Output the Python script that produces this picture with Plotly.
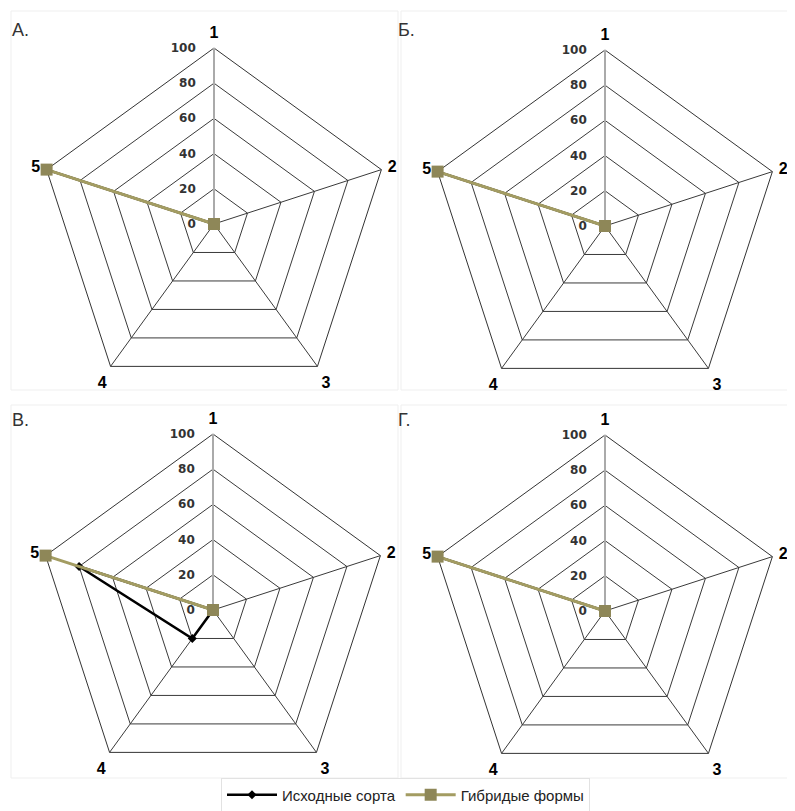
import plotly.graph_objects as go

categories = ["1", "2", "3", "4", "5"]
panel_labels = ["А.", "Б.", "В.", "Г."]
orig_A = [0, 0, 0, 0, 100]
hyb_A = [0, 0, 0, 0, 100]
orig_B = [0, 0, 0, 0, 100]
hyb_B = [0, 0, 0, 0, 100]
orig_V = [0, 0, 0, 20, 80]
hyb_V = [0, 0, 0, 0, 100]
orig_G = [0, 0, 0, 0, 100]
hyb_G = [0, 0, 0, 0, 100]
radial_ticks = [0, 20, 40, 60, 80, 100]
series_names = ["Исходные сорта", "Гибридые формы"]

W, H = 795, 811
originals = [orig_A, orig_B, orig_V, orig_G]
hybrids = [hyb_A, hyb_B, hyb_V, hyb_G]
centers = [(213, 222), (604, 224), (212, 608), (604, 609)]
R = 176
SHIFT_X, SHIFT_Y = 7, 6
OLIVE = "#a39c62"
OLIVE_M = "#8e8758"


def pname(k):
    return "polar" if k == 1 else f"polar{k}"


fig = go.Figure()
for i in range(4):
    grid_id = pname(2 * i + 1)
    data_id = pname(2 * i + 2)
    th = categories + [categories[0]]
    o = originals[i] + [originals[i][0]]
    h = hybrids[i] + [hybrids[i][0]]
    # invisible trace so that the grid subplot is drawn
    fig.add_trace(go.Scatterpolar(r=[None], theta=[categories[0]], subplot=grid_id,
                                  mode="markers", showlegend=False, hoverinfo="skip"))
    fig.add_trace(go.Scatterpolar(
        r=o, theta=th, subplot=data_id, mode="lines+markers", cliponaxis=False,
        line=dict(color="black", width=2.5),
        marker=dict(symbol="diamond", size=7, color="black"),
        name=series_names[0], showlegend=(i == 0)))
    fig.add_trace(go.Scatterpolar(
        r=h, theta=th, subplot=data_id, mode="lines+markers", cliponaxis=False,
        line=dict(color=OLIVE, width=3),
        marker=dict(symbol="square", size=12, color=OLIVE_M),
        name=series_names[1], showlegend=(i == 0)))

layout = dict(
    width=W, height=H, margin=dict(l=0, r=0, t=0, b=0),
    paper_bgcolor="white", plot_bgcolor="white",
    font=dict(family="Liberation Sans, Arial, sans-serif", color="black"),
    showlegend=True,
    legend=dict(orientation="h", x=0.5, xanchor="center", y=0.008, yanchor="bottom",
                bordercolor="#e2e2e2", borderwidth=1, font=dict(size=15, color="#222222"),
                bgcolor="white", itemwidth=50),
)
annotations = []
shapes = []
for i, (cx, cy) in enumerate(centers):
    grid_id = pname(2 * i + 1)
    data_id = pname(2 * i + 2)
    cx2, cy2 = cx - SHIFT_X, cy - SHIFT_Y
    x0, x1 = (cx2 - R) / W, (cx2 + R) / W
    y0, y1 = 1 - (cy2 + R) / H, 1 - (cy2 - R) / H
    layout[grid_id] = dict(
        domain=dict(x=[x0, x1], y=[y0, y1]),
        gridshape="linear",
        bgcolor="white",
        angularaxis=dict(rotation=90, direction="clockwise", categoryorder="array",
                         categoryarray=categories, type="category",
                         showline=True, linecolor="#333333", linewidth=1,
                         showgrid=True, gridcolor="#3a3a3a", gridwidth=1,
                         ticks="outside", ticklen=3, tickcolor="rgba(0,0,0,0)",
                         tickfont=dict(size=16, color="black", weight="bold")),
        radialaxis=dict(range=[0, 100], tickvals=radial_ticks, angle=90, tickangle=90,
                        showline=True, linecolor="#aaaaaa", linewidth=2,
                        showgrid=True, gridcolor="#3a3a3a", gridwidth=1,
                        ticks="outside", ticklen=13, tickcolor="rgba(0,0,0,0)",
                        side="counterclockwise",
                        tickfont=dict(size=12, color="#333333", weight="bold",
                                      family="DejaVu Sans, sans-serif")),
    )
    layout[data_id] = dict(
        domain=dict(x=[x0, x1], y=[y0, y1]),
        gridshape="linear",
        bgcolor="rgba(0,0,0,0)",
        angularaxis=dict(rotation=90, direction="clockwise", categoryorder="array",
                         categoryarray=categories, type="category",
                         showline=False, showgrid=False, ticks="",
                         showticklabels=False),
        radialaxis=dict(range=[-0.01, 100], showline=False, showgrid=False, ticks="",
                        showticklabels=False),
    )
    layout[data_id]["gridshape"] = "circular"
    px = 0.003 if i % 2 == 0 else 0.488
    py = 1 - 22 / H if i < 2 else 1 - 412 / H
    annotations.append(dict(text=panel_labels[i], x=px, y=py, xref="paper", yref="paper",
                            xanchor="left", yanchor="middle", showarrow=False,
                            font=dict(size=18, color="#333333")))
layout["annotations"] = annotations
boxes = [(3, 3, 390, 382), (393, 3, 792, 382), (3, 397, 390, 770), (393, 397, 792, 770)]
for bx0, by0, bx1, by1 in boxes:
    shapes.append(dict(type="rect", xref="paper", yref="paper",
                       x0=bx0 / W, x1=bx1 / W, y0=1 - by1 / H, y1=1 - by0 / H,
                       line=dict(color="#efefef", width=1), layer="below"))
layout["shapes"] = shapes
fig.update_layout(**layout)
fig.write_html("out.html")
